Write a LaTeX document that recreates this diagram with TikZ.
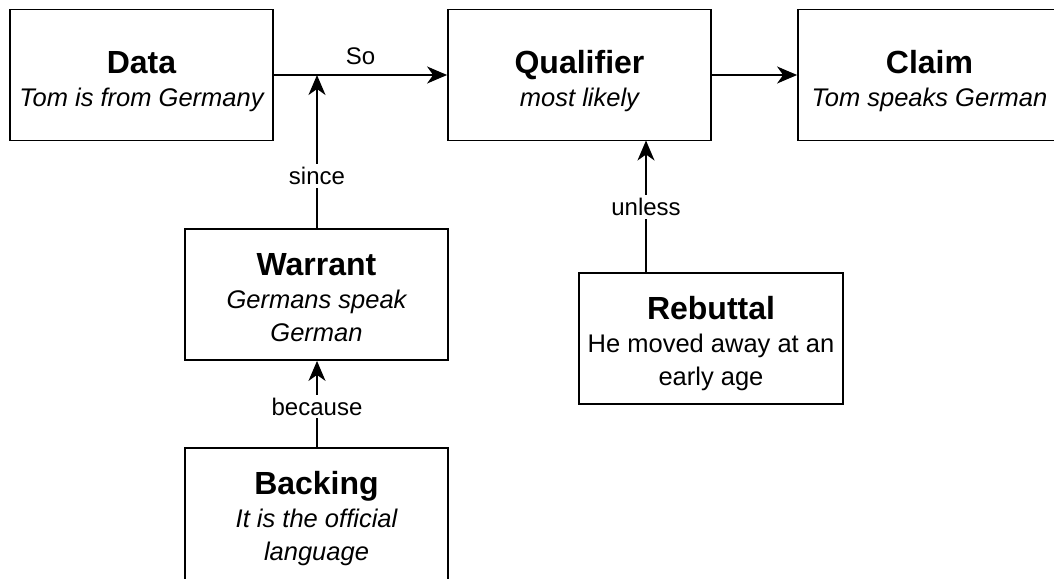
\documentclass[tikz,border=0pt]{standalone}
\usepackage{fontspec}
\setmainfont{Liberation Sans}
\usetikzlibrary{arrows.meta}
\newcommand\boxtitle[2]{{\fontsize{32}{36}\selectfont\bfseries\rule{0pt}{#1pt}#2}}
\begin{document}
\begin{tikzpicture}[x=1pt,y=-1pt,
  box/.style={draw, line width=1.8pt, minimum width=263pt, minimum height=131pt,
    inner sep=0pt, align=center, font=\fontsize{25.5}{33}\selectfont},
  conn/.style={line width=1.8pt, -{Stealth[length=20pt,width=17pt,inset=6pt]}},
  lbl/.style={font=\fontsize{24}{28}\selectfont, fill=white, inner sep=3pt}]
\useasboundingbox (0,0) rectangle (1054,578);
\clip (0,0) rectangle (1054,578);

\node[box] (data) at (141.5,75) {\boxtitle{35}{Data}\\\itshape Tom is from Germany};
\node[box] (qual) at (579.5,75) {\boxtitle{35}{Qualifier}\\\itshape most likely};
\node[box] (claim) at (929.5,75) {\boxtitle{35}{Claim}\\\itshape Tom speaks German};
\node[box] (warrant) at (316.5,294.5) {\boxtitle{28}{Warrant}\\\itshape Germans speak\\\itshape German};
\node[box, minimum height=137pt] (backing) at (316.5,516.5) {\boxtitle{28}{Backing}\\\itshape It is the official\\\itshape language};
\node[box, minimum width=264pt] (rebut) at (711,338.5) {\boxtitle{33}{Rebuttal}\\He moved away at an\\early age};

\coordinate (join) at (317,75);
\coordinate (qbot) at (646,140.5);
\coordinate (rtop) at (646,273);

\draw[conn] (data.east) -- node[above=6pt, font=\fontsize{24}{28}\selectfont, pos=0.5] {So} (qual.west);
\draw[conn] (qual.east) -- (claim.west);
\draw[conn] (warrant.north -| join) -- node[lbl, pos=0.34] {since} (join);
\draw[conn] (backing.north -| join) -- node[lbl, pos=0.47] {because} (warrant.south -| join);
\draw[conn] (rtop) -- node[lbl, pos=0.5] {unless} (qbot);
\end{tikzpicture}
\end{document}
